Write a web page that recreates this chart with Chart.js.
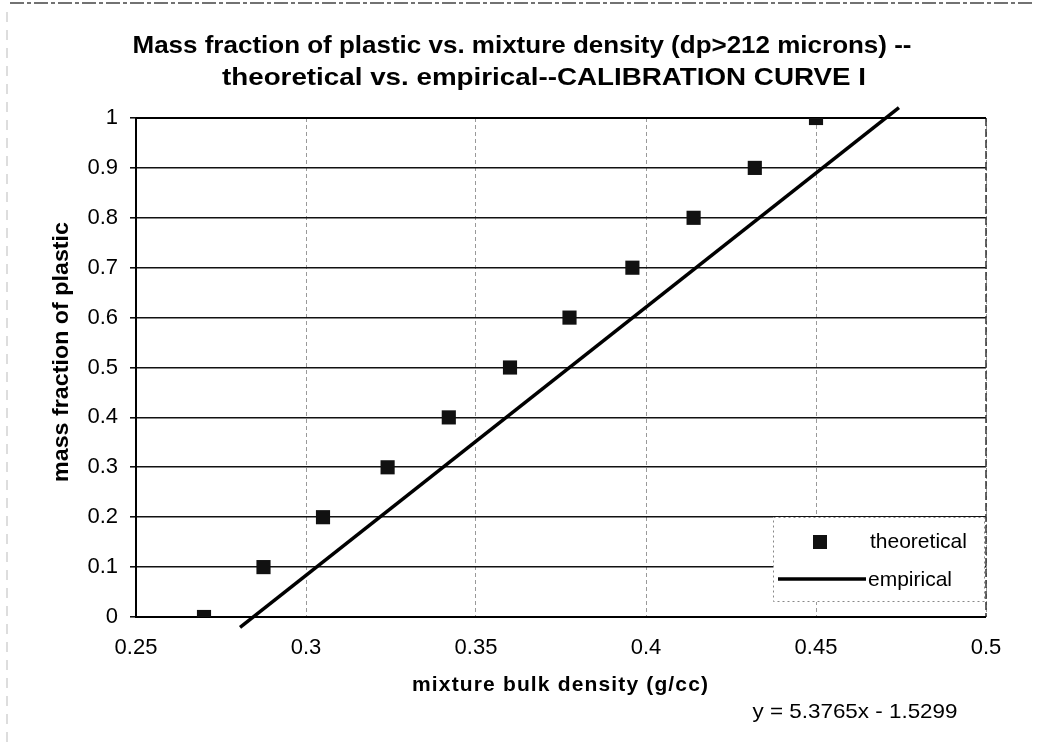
<!DOCTYPE html>
<html><head><meta charset="utf-8">
<script src="https://cdn.jsdelivr.net/npm/chart.js@4/dist/chart.umd.min.js"></script>
<style>html,body{margin:0;padding:0;background:#fff}#wrap{width:1049px;height:749px}</style>
</head><body><div id="wrap"><canvas id="c" width="1049" height="749"></canvas></div>
<script>
const titleLines = ['Mass fraction of plastic vs. mixture density (dp>212 microns) --', 'theoretical vs. empirical--CALIBRATION CURVE I'];
const xAxisTitle = 'mixture bulk density (g/cc)';
const yAxisTitle = 'mass fraction of plastic';
const equationText = 'y = 5.3765x - 1.5299';
const seriesNames = ['theoretical', 'empirical'];
const theoX = [0.270, 0.2875, 0.305, 0.324, 0.342, 0.360, 0.3775, 0.396, 0.414, 0.432, 0.450];
const theoY = [0, 0.1, 0.2, 0.3, 0.4, 0.5, 0.6, 0.7, 0.8, 0.9, 1.0];
const empX = [0.2806, 0.4744];
const empY = [-0.021, 1.021];
const xTickValues = [0.25, 0.3, 0.35, 0.4, 0.45, 0.5];
const xTickLabels = ['0.25', '0.3', '0.35', '0.4', '0.45', '0.5'];
const yTickValues = [0, 0.1, 0.2, 0.3, 0.4, 0.5, 0.6, 0.7, 0.8, 0.9, 1];
const yTickLabels = ['0', '0.1', '0.2', '0.3', '0.4', '0.5', '0.6', '0.7', '0.8', '0.9', '1'];

const FONT = "'Liberation Sans', Arial, sans-serif";

function drawFit(ctx, text, cx, cy, width, font, rot) {
  ctx.save();
  ctx.font = font;
  const w = ctx.measureText(text).width;
  ctx.translate(cx, cy);
  if (rot) ctx.rotate(rot);
  ctx.scale(width / w, 1);
  ctx.textAlign = 'center';
  ctx.textBaseline = 'middle';
  ctx.fillStyle = '#000';
  ctx.fillText(text, 0, 0);
  ctx.restore();
}
function drawSpaced(ctx, text, cx, cy, width, font) {
  ctx.save();
  ctx.font = font;
  ctx.letterSpacing = '0px';
  const w = ctx.measureText(text).width;
  const ls = Math.max(0, (width - w) / (text.length - 1));
  ctx.letterSpacing = ls + 'px';
  ctx.textAlign = 'left';
  ctx.textBaseline = 'middle';
  ctx.fillStyle = '#000';
  ctx.fillText(text, cx - width / 2, cy);
  ctx.restore();
}

const decor = {
  id: 'decor',
  beforeDatasetsDraw(chart) {
    const ctx = chart.ctx, ca = chart.chartArea;
    ctx.save();
    ctx.strokeStyle = '#444'; ctx.lineWidth = 1.5; ctx.setLineDash([14, 3, 4, 3]);
    ctx.beginPath(); ctx.moveTo(10, 3); ctx.lineTo(1035, 3); ctx.stroke();
    ctx.strokeStyle = '#bbb'; ctx.lineWidth = 1; ctx.setLineDash([10, 8]);
    ctx.beginPath(); ctx.moveTo(7, 12); ctx.lineTo(7, 749); ctx.stroke();
    ctx.strokeStyle = '#333'; ctx.lineWidth = 1.5; ctx.setLineDash([8, 3]);
    ctx.beginPath(); ctx.moveTo(ca.right, ca.top); ctx.lineTo(ca.right, ca.bottom); ctx.stroke();
    ctx.setLineDash([]);
    ctx.strokeStyle = '#000'; ctx.lineWidth = 2;
    ctx.beginPath();
    ctx.moveTo(ca.left, ca.top); ctx.lineTo(ca.left, ca.bottom); ctx.lineTo(ca.right, ca.bottom);
    ctx.moveTo(ca.left, ca.top); ctx.lineTo(ca.right, ca.top);
    ctx.stroke();
    ctx.restore();
  },
  afterDatasetsDraw(chart) {
    const ctx = chart.ctx;
    const ds = chart.data.datasets;
    ctx.save();
    ctx.fillStyle = '#fff';
    ctx.fillRect(773, 517, 212, 85);
    ctx.strokeStyle = '#888'; ctx.lineWidth = 1; ctx.setLineDash([2, 3]);
    ctx.strokeRect(773.5, 517.5, 211, 84);
    ctx.setLineDash([]);
    ctx.fillStyle = ds[0].backgroundColor;
    ctx.fillRect(820 - 7, 542 - 7, 14, 14);
    ctx.fillStyle = '#000';
    ctx.font = '21px ' + FONT;
    ctx.textAlign = 'left'; ctx.textBaseline = 'middle';
    ctx.fillText(ds[0].label, 870, 542);
    ctx.strokeStyle = ds[1].borderColor; ctx.lineWidth = ds[1].borderWidth;
    ctx.beginPath(); ctx.moveTo(778, 579); ctx.lineTo(866, 579); ctx.stroke();
    ctx.fillText(ds[1].label, 868, 580);
    ctx.restore();
    drawFit(ctx, titleLines[0], 522, 46, 779, 'bold 24px ' + FONT);
    drawFit(ctx, titleLines[1], 544, 78, 644, 'bold 24px ' + FONT);
    drawFit(ctx, yAxisTitle, 62, 352, 260, 'bold 22px ' + FONT, -Math.PI / 2);
    drawSpaced(ctx, xAxisTitle, 560, 685, 296, 'bold 21px ' + FONT);
    drawFit(ctx, equationText, 855, 712, 205, '21px ' + FONT);
  }
};

new Chart(document.getElementById('c'), {
  type: 'scatter',
  data: {
    datasets: [
      {
        label: seriesNames[0],
        data: theoX.map((x, i) => ({ x: x, y: theoY[i] })),
        pointStyle: 'rect', pointRadius: 10, pointHoverRadius: 10,
        backgroundColor: '#111', borderColor: '#111', borderWidth: 0,
        showLine: false
      },
      {
        label: seriesNames[1],
        data: empX.map((x, i) => ({ x: x, y: empY[i] })),
        showLine: true, borderColor: '#000', backgroundColor: '#000', borderWidth: 3.5,
        pointRadius: 0, pointHoverRadius: 0, fill: false, clip: false
      }
    ]
  },
  options: {
    responsive: false, animation: false, devicePixelRatio: 1,
    layout: { padding: { top: 118, right: 63, left: 0, bottom: 0 } },
    plugins: { legend: { display: false }, title: { display: false }, tooltip: { enabled: false } },
    scales: {
      x: {
        type: 'linear', min: 0.25, max: 0.5,
        afterBuildTicks: s => { s.ticks = xTickValues.map(v => ({ value: v })); },
        afterFit: s => { s.height = 132; },
        ticks: { callback: (v, i) => xTickLabels[i], font: { family: FONT, size: 22 }, color: '#000', padding: 18, maxRotation: 0, autoSkip: false },
        grid: { color: '#999', lineWidth: 1, drawTicks: false },
        border: { display: false, dash: [4, 3] }
      },
      y: {
        type: 'linear', min: 0, max: 1,
        afterBuildTicks: s => { s.ticks = yTickValues.map(v => ({ value: v })); },
        afterFit: s => { s.width = 136; },
        ticks: { callback: (v, i) => yTickLabels[i], font: { family: FONT, size: 22 }, color: '#000', padding: 12, autoSkip: false },
        grid: { color: '#111', lineWidth: 1.6, tickLength: 6, tickColor: '#000', tickWidth: 1.5 },
        border: { display: false }
      }
    }
  },
  plugins: [decor]
});
</script>
</body></html>
